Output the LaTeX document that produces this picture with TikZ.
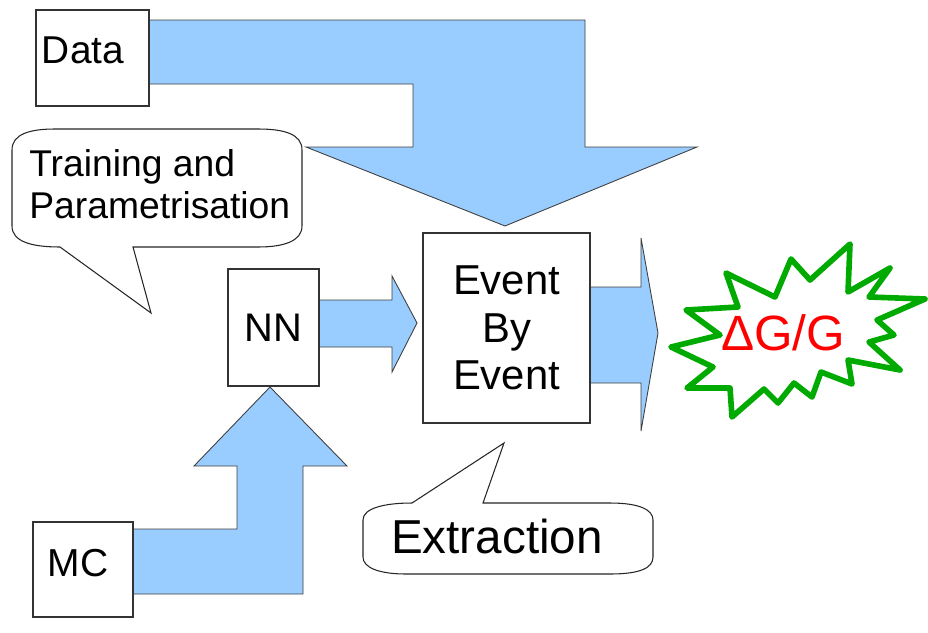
\documentclass[tikz,border=0pt]{standalone}
\usepackage{fontspec}
\setmainfont{Liberation Sans}
\definecolor{arrowblue}{RGB}{153,204,255}
\definecolor{stargreen}{RGB}{0,170,0}
\begin{document}
\begin{tikzpicture}[x=0.02cm,y=-0.02cm,
    blockbox/.style ={rectangle, draw=black!80, fill=white, line width=0.6pt, inner sep=0pt},
    bigarrow/.style ={fill=arrowblue, draw=black!75, line width=0.5pt, line join=miter},
    callout/.style ={fill=white, draw=black!85, line width=0.6pt},
    txt/.style ={inner sep=0pt, text=black}]
   \useasboundingbox[fill=white] (0,0) rectangle (928,632);
   % block arrows
   \draw[bigarrow] (148,20) -- (585,20) -- (585,147) -- (697,147) -- (505,226)
       -- (306,147) -- (413,147) -- (413,84) -- (148,84) -- cycle;
   \draw[bigarrow] (319,300) -- (392,300) -- (392,276) -- (417,323) -- (392,372)
       -- (392,347) -- (319,347) -- cycle;
   \draw[bigarrow] (590,287) -- (641,287) -- (641,238) -- (658,333) -- (641,431)
       -- (641,383) -- (590,383) -- cycle;
   \draw[bigarrow] (132,529) -- (237,529) -- (237,466) -- (194,466) -- (270,387)
       -- (347,466) -- (303,466) -- (303,594) -- (132,594) -- cycle;
   % boxes
   \node[blockbox, minimum width=2.26cm, minimum height=1.92cm] (data) at (92.5,58) {};
   \node[txt, font=\fontsize{22.1}{26}\selectfont] (datatxt) at (83,50) {Data};
   \node[blockbox, minimum width=1.82cm, minimum height=2.34cm,
         font=\fontsize{22.7}{26}\selectfont] (nn) at (273.5,327.5) {NN};
   \node[blockbox, minimum width=3.34cm, minimum height=3.8cm, align=center,
         font=\fontsize{23.8}{26.9}\selectfont] (ebe) at (506.5,328) {Event\\By\\Event};
   \node[blockbox, minimum width=2.0cm, minimum height=1.9cm] (mc) at (83,569.5) {};
   \node[txt, font=\fontsize{22.2}{26}\selectfont] (mctxt) at (78,563) {MC};
   % callouts
   \draw[callout] (12,150) .. controls (12,134) and (30,129) .. (55,129) -- (258,129)
       .. controls (284,129) and (302,134) .. (302,150) -- (302,226)
       .. controls (302,241) and (284,247) .. (258,247) -- (133,247) -- (151,313)
       -- (60,247) .. controls (30,247) and (12,241) .. (12,226) -- cycle;
   \node[txt, anchor=west, align=left, font=\fontsize{21.2}{23.8}\selectfont]
       (train) at (29,184) {Training and\\Parametrisation};
   \draw[callout] (363,520) .. controls (363,508) and (385,503) .. (412,503) -- (504,443)
       -- (483,503) -- (610,503) .. controls (640,503) and (653,510) .. (653,520)
       -- (653,557) .. controls (653,568) and (640,574) .. (610,574) -- (406,574)
       .. controls (380,574) and (363,568) .. (363,557) -- cycle;
   \node[txt, font=\fontsize{27.1}{30}\selectfont] (extr) at (497,536) {Extraction};
   % result burst
   \draw[stargreen, line width=3.2pt, line join=round, fill=white]
       (726,273) -- (775,297) -- (791,259) -- (810,280) -- (850,244) -- (848,292)
       -- (890,268) -- (869,297) -- (925,299) -- (877,320) -- (894,335) -- (869,342)
       -- (900,370) -- (848,360) -- (852,384) -- (821,372) -- (812,397) -- (794,383)
       -- (778,403) -- (764,389) -- (732,417) -- (730,388) -- (687,388) -- (713,367)
       -- (671,347) -- (720,335) -- (686,310) -- (738,307) -- cycle;
   \node[txt, text=red, font=\fontsize{28.2}{30}\selectfont] (dg) at (783,333) {ΔG/G};
 \end{tikzpicture}
\end{document}
